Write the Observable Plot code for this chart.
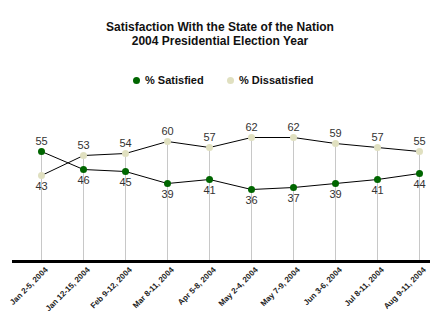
<!DOCTYPE html>
<html>
<head>
<meta charset="utf-8">
<script src="https://cdn.jsdelivr.net/npm/d3@7"></script>
<script src="https://cdn.jsdelivr.net/npm/@observablehq/plot@0.6"></script>
<style>
  body { margin: 0; background: #fff; font-family: Arial, "Liberation Sans", sans-serif; }
  #wrap { width: 440px; height: 325px; position: relative; overflow: hidden; }
  #title { position: absolute; top: 20px; left: 0; width: 440px; text-align: center; font-weight: bold; font-size: 12px; line-height: 14px; color: #111; }
  #legend { position: absolute; top: 73px; left: 0; width: 440px; font-weight: bold; font-size: 11px; color: #111; }
  .item { position: absolute; top: 0; white-space: nowrap; line-height: 14px; }
  .sw { display: inline-block; width: 7px; height: 7px; border-radius: 50%; margin-right: 5px; vertical-align: 0px; }
  #chart { position: absolute; top: 95px; left: 0; }
</style>
</head>
<body>
<div id="wrap">
  <div id="title">Satisfaction With the State of the Nation<br>2004 Presidential Election Year</div>
  <div id="legend"></div>
  <div id="chart"></div>
</div>
<script>
const dates = ["Jan 2-5, 2004", "Jan 12-15, 2004", "Feb 9-12, 2004", "Mar 8-11, 2004", "Apr 5-8, 2004",
               "May 2-4, 2004", "May 7-9, 2004", "Jun 3-6, 2004", "Jul 8-11, 2004", "Aug 9-11, 2004"];
const satisfied = [55, 46, 45, 39, 41, 36, 37, 39, 41, 44];
const dissatisfied = [43, 53, 54, 60, 57, 62, 62, 59, 57, 55];
const seriesNames = ["% Satisfied", "% Dissatisfied"];
const seriesColors = ["#006600", "#e0e0c0"];

const rows = [];
dates.forEach((d, i) => {
  rows.push({date: d, series: seriesNames[0], value: satisfied[i], other: dissatisfied[i]});
  rows.push({date: d, series: seriesNames[1], value: dissatisfied[i], other: satisfied[i]});
});
const stems = dates.map((d, i) => ({date: d, top: Math.max(satisfied[i], dissatisfied[i])}));

// legend
const legend = document.getElementById("legend");
const legendX = [133, 227];
seriesNames.forEach((name, i) => {
  const it = document.createElement("div");
  it.className = "item";
  it.style.left = legendX[i] + "px";
  it.innerHTML = `<span class="sw" style="background:${seriesColors[i]}"></span>${name}`;
  legend.appendChild(it);
});

const above = rows.filter(r => r.value >= r.other);
const below = rows.filter(r => r.value < r.other);

const chart = Plot.plot({
  width: 440,
  height: 230,
  marginTop: 6,
  marginBottom: 64,
  marginLeft: 12,
  marginRight: 10,
  style: {fontFamily: "Arial, 'Liberation Sans', sans-serif", background: "#fff", overflow: "visible"},
  x: {type: "point", domain: dates, padding: 0, insetLeft: 28, insetRight: 11, label: null},
  y: {domain: [0, 80], axis: null},
  color: {domain: seriesNames, range: seriesColors},
  marks: [
    Plot.ruleX(stems, {x: "date", y1: 0, y2: "top", stroke: "#c8c8c8", strokeWidth: 1}),
    Plot.line(rows, {x: "date", y: "value", z: "series", stroke: "#000", strokeWidth: 1}),
    Plot.dot(rows, {x: "date", y: "value", fill: "series", r: 3.5}),
    Plot.text(above, {x: "date", y: "value", text: d => d.value, dy: -10, fontSize: 11, fill: "#333"}),
    Plot.text(below, {x: "date", y: "value", text: d => d.value, dy: 11, fontSize: 11, fill: "#333"}),
    Plot.ruleY([0], {stroke: "#000", strokeWidth: 3}),
    Plot.axisX({tickRotate: -45, tickSize: 0, tickPadding: 5, dx: 5, dy: 2, fontSize: 8, fontWeight: "bold", fill: "#222", label: null})
  ]
});
document.getElementById("chart").appendChild(chart);
</script>
</body>
</html>
